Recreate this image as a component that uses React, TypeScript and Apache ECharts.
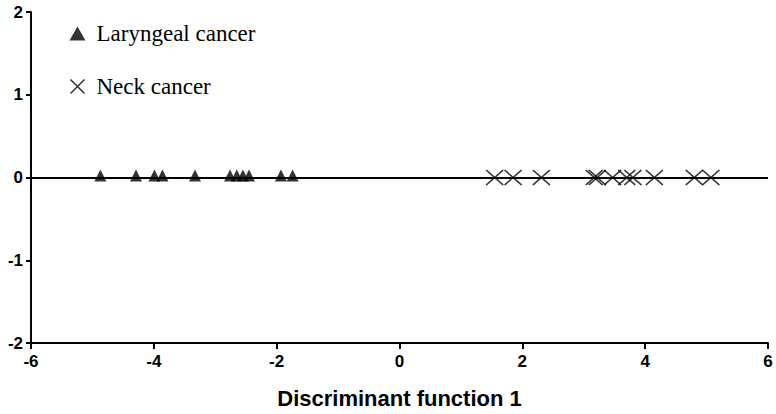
import React, { useEffect, useRef } from "react";
import * as echarts from "echarts";

const laryngeal: number[] = [-4.87, -4.29, -3.99, -3.86, -3.33, -2.76, -2.65, -2.55, -2.45, -1.93, -1.74];
const neck: number[] = [1.55, 1.85, 2.31, 3.17, 3.22, 3.47, 3.7, 3.8, 4.15, 4.8, 5.07];
const seriesNames = ["Laryngeal cancer", "Neck cancer"];
const xTitle = "Discriminant function 1";

const crossPath = "path://M0,0L10,10M10,0L0,10";

export default function App() {
  const ref = useRef<HTMLDivElement>(null);
  useEffect(() => {
    if (!ref.current) return;
    const chart = echarts.init(ref.current, undefined, { renderer: "svg" });
    const axisFont = { fontFamily: "Liberation Sans", fontWeight: "bold" as const, fontSize: 17, color: "#000" };
    chart.setOption({
      animation: false,
      backgroundColor: "#fff",
      grid: { left: 31, right: 8, top: 12, bottom: 69, containLabel: false },
      legend: {
        orient: "vertical",
        left: 63,
        top: 17,
        itemGap: 30,
        itemWidth: 16,
        itemHeight: 14,
        textStyle: { fontFamily: "Liberation Serif", fontSize: 23, color: "#000", padding: [0, 0, 0, 6] },
        data: [
          { name: seriesNames[0], icon: "triangle", itemStyle: { color: "#000" } },
          { name: seriesNames[1], icon: crossPath, itemStyle: { color: "none", borderColor: "#000", borderWidth: 1.5 } },
        ],
      },
      xAxis: {
        type: "value",
        min: -6,
        max: 6,
        interval: 2,
        name: xTitle,
        nameLocation: "middle",
        nameGap: 44,
        nameTextStyle: { fontFamily: "Liberation Sans", fontWeight: "bold", fontSize: 22, color: "#000" },
        axisLine: { onZero: false, lineStyle: { color: "#000", width: 2 } },
        axisTick: { show: true, length: 6, lineStyle: { color: "#000", width: 2 } },
        axisLabel: { ...axisFont, margin: 10 },
        splitLine: { show: false },
      },
      yAxis: {
        type: "value",
        min: -2,
        max: 2,
        interval: 1,
        axisLine: { show: true, onZero: false, lineStyle: { color: "#000", width: 2 } },
        axisTick: { show: true, length: 5, lineStyle: { color: "#000", width: 2 } },
        axisLabel: { ...axisFont, margin: 8 },
        splitLine: { show: false },
      },
      series: [
        {
          name: seriesNames[0],
          type: "scatter",
          symbol: "triangle",
          symbolSize: [12, 12],
          symbolOffset: [0, -2],
          itemStyle: { color: "#000" },
          data: laryngeal.map((v) => [v, 0]),
          markLine: {
            silent: true,
            symbol: "none",
            label: { show: false },
            lineStyle: { color: "#000", width: 2, type: "solid" },
            data: [{ yAxis: 0 }],
          },
          z: 3,
        },
        {
          name: seriesNames[1],
          type: "scatter",
          symbol: crossPath,
          symbolSize: [17, 15],
          itemStyle: { color: "none", borderColor: "#000", borderWidth: 1.6 },
          data: neck.map((v) => [v, 0]),
          z: 3,
        },
      ],
    });
    return () => chart.dispose();
  }, []);
  return <div ref={ref} style={{ width: 776, height: 414, position: "absolute", left: 0, top: 0 }} />;
}
